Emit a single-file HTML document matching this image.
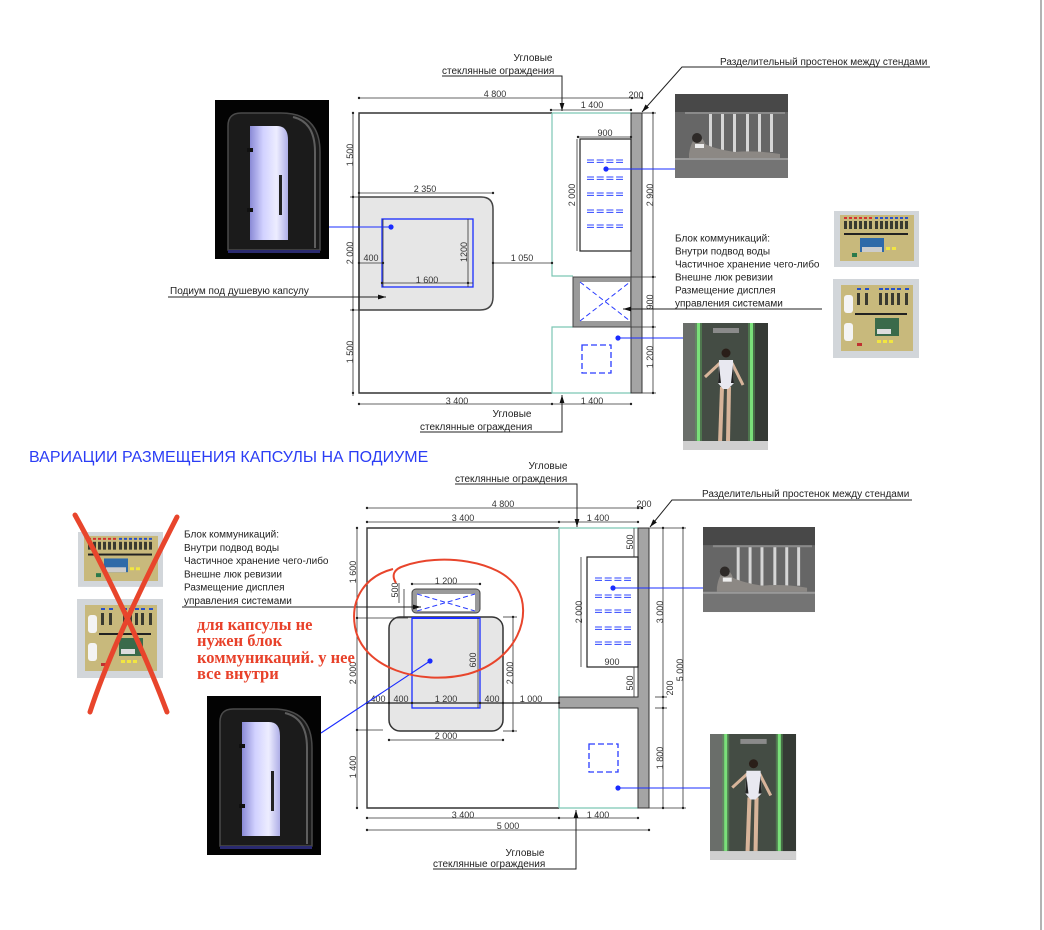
<!DOCTYPE html>
<html><head><meta charset="utf-8">
<style>
html,body{margin:0;padding:0;background:#fff;}
svg{display:block;}
text{font-family:"Liberation Sans",Arial,sans-serif;fill:#222;}
.d{font-size:9px;fill:#333;}
.l{font-size:10px;fill:#222;}
.rt{font-family:"Liberation Serif","Times New Roman",serif;font-weight:bold;font-size:16.5px;fill:#e8412a;}
</style></head><body>
<svg width="1044" height="930" viewBox="0 0 1044 930" xmlns="http://www.w3.org/2000/svg">
<defs>
<marker id="ar" viewBox="0 0 10 6" refX="10" refY="3" markerWidth="8" markerHeight="5" orient="auto" markerUnits="userSpaceOnUse"><path d="M0,0L10,3L0,6z" fill="#111"/></marker>
<linearGradient id="lav" x1="0" y1="0" x2="1" y2="0">
<stop offset="0" stop-color="#8a8ad6"/><stop offset="0.35" stop-color="#d2d2ff"/><stop offset="0.7" stop-color="#ededff"/><stop offset="1" stop-color="#aeaee6"/>
</linearGradient>
<g id="cap">
<rect width="114" height="159" fill="#030303"/>
<path d="M13,26 Q13,13 26,13 H66 Q105,13 105,52 V150 H13 Z" fill="#1b1b1b" stroke="#4a4a4a" stroke-width="1.5"/>
<path d="M78,17 Q100,22 100,52 V148" fill="none" stroke="#5e5e5e" stroke-width="2"/>
<path d="M35,26 H62 Q73,26 73,40 V140 H35 Z" fill="url(#lav)"/>
<rect x="32" y="48" width="6" height="4" fill="#111"/>
<rect x="32" y="108" width="6" height="4" fill="#111"/>
<rect x="64" y="75" width="3" height="40" fill="#222"/>
<rect x="13" y="150" width="92" height="3" fill="#2a2a70"/>
</g>
<g id="mas">
<rect width="113" height="84" fill="#5a5a5a"/>
<rect width="113" height="18" fill="#484848"/>
<rect x="0" y="18" width="113" height="46" fill="#666"/>
<rect x="10" y="18" width="100" height="2" fill="#8a8a8a"/>
<g fill="#d6d6d6"><rect x="34" y="20" width="3" height="38"/><rect x="46" y="20" width="3" height="38"/><rect x="58" y="20" width="3" height="38"/><rect x="71" y="20" width="3" height="38"/><rect x="83" y="20" width="3" height="38"/><rect x="95" y="20" width="3" height="38"/></g>
<path d="M14,60 Q16,46 22,44 Q28,42 30,50 Q40,55 60,58 Q80,56 105,60 V64 H14 Z" fill="#8c8884"/>
<circle cx="22" cy="44" r="5" fill="#2e2a28"/>
<rect x="20" y="50" width="9" height="4" fill="#eee"/>
<rect x="0" y="64" width="113" height="20" fill="#747474"/>
<rect x="0" y="64" width="113" height="2" fill="#999"/>
</g>
<g id="std">
<rect width="85" height="127" fill="#3a403b"/>
<rect width="14" height="127" fill="#6a6e6a"/>
<rect x="16" y="0" width="52" height="127" fill="#444c44"/>
<rect x="68" y="0" width="17" height="127" fill="#353a35"/>
<rect x="12" y="0" width="7" height="127" fill="#5aa05a" opacity="0.5"/>
<rect x="65" y="0" width="7" height="127" fill="#5aa05a" opacity="0.5"/>
<rect x="14" y="0" width="3" height="127" fill="#7ae07a"/>
<rect x="67" y="0" width="3" height="127" fill="#7ae07a"/>
<rect x="30" y="5" width="26" height="5" fill="#8a8a8a"/>
<path d="M37,40 L22,54" stroke="#d7b49a" stroke-width="3"/>
<path d="M49,40 L60,62" stroke="#d7b49a" stroke-width="3"/>
<path d="M39,64 L37,121" stroke="#d7b49a" stroke-width="4"/>
<path d="M46,64 L45,119" stroke="#d7b49a" stroke-width="4"/>
<path d="M36,37 H50 L51,60 L45,66 H40 L35,60 Z" fill="#e8e8f0"/>
<path d="M36,42 L38,60 L35,60 Z" fill="#222"/>
<path d="M50,42 L48,60 L51,60 Z" fill="#222"/>
<circle cx="43" cy="30" r="4.5" fill="#2a1e18"/>
<rect x="0" y="118" width="85" height="9" fill="#cfcfcf"/>
</g>
<g id="cb1">
<rect width="85" height="56" fill="#d2d6da"/>
<rect x="6" y="4" width="74" height="46" fill="#c8b97c"/>
<g fill="#d43030"><rect x="10" y="6" width="3" height="2"/><rect x="15" y="6" width="3" height="2"/><rect x="20" y="6" width="3" height="2"/><rect x="25" y="6" width="3" height="2"/><rect x="30" y="6" width="3" height="2"/><rect x="35" y="6" width="3" height="2"/></g>
<g fill="#2850c8"><rect x="41" y="6" width="3" height="2"/><rect x="46" y="6" width="3" height="2"/><rect x="51" y="6" width="3" height="2"/><rect x="56" y="6" width="3" height="2"/><rect x="61" y="6" width="3" height="2"/><rect x="66" y="6" width="3" height="2"/><rect x="71" y="6" width="3" height="2"/></g>
<g fill="#3a3a30"><rect x="10" y="10" width="3" height="8"/><rect x="15" y="10" width="3" height="8"/><rect x="20" y="10" width="3" height="8"/><rect x="25" y="10" width="3" height="8"/><rect x="30" y="10" width="3" height="8"/><rect x="35" y="10" width="3" height="8"/><rect x="41" y="10" width="3" height="8"/><rect x="46" y="10" width="3" height="8"/><rect x="51" y="10" width="3" height="8"/><rect x="56" y="10" width="3" height="8"/><rect x="61" y="10" width="3" height="8"/><rect x="66" y="10" width="3" height="8"/><rect x="71" y="10" width="3" height="8"/></g>
<rect x="10" y="22" width="64" height="2" fill="#222"/>
<rect x="26" y="27" width="24" height="14" fill="#2f6aa8"/>
<rect x="28" y="36" width="20" height="5" fill="#ccc"/>
<rect x="52" y="36" width="4" height="3" fill="#f2e640"/><rect x="58" y="36" width="4" height="3" fill="#f2e640"/>
<rect x="18" y="42" width="5" height="4" fill="#2a7a4a"/>
</g>
<g id="cb2">
<rect width="86" height="79" fill="#d2d6da"/>
<rect x="8" y="6" width="72" height="66" fill="#c8b97c"/>
<g fill="#2850c8"><rect x="24" y="9" width="4" height="2"/><rect x="32" y="9" width="4" height="2"/><rect x="46" y="9" width="4" height="2"/><rect x="52" y="9" width="4" height="2"/><rect x="58" y="9" width="4" height="2"/><rect x="64" y="9" width="4" height="2"/><rect x="72" y="9" width="4" height="2"/></g>
<rect x="11" y="16" width="9" height="18" rx="3" fill="#f4f4f4"/>
<rect x="11" y="44" width="9" height="18" rx="3" fill="#f4f4f4"/>
<g fill="#3a3a30"><rect x="24" y="14" width="3" height="12"/><rect x="32" y="14" width="3" height="12"/><rect x="46" y="14" width="3" height="12"/><rect x="52" y="14" width="3" height="12"/><rect x="58" y="14" width="3" height="12"/><rect x="64" y="14" width="3" height="12"/><rect x="72" y="14" width="3" height="12"/></g>
<rect x="22" y="34" width="52" height="2" fill="#222"/>
<rect x="42" y="39" width="24" height="18" fill="#3a6a4a"/>
<rect x="44" y="50" width="14" height="5" fill="#ddd"/>
<rect x="44" y="61" width="4" height="3" fill="#f2e640"/><rect x="50" y="61" width="4" height="3" fill="#f2e640"/><rect x="56" y="61" width="4" height="3" fill="#f2e640"/>
<rect x="24" y="64" width="5" height="3" fill="#c03030"/>
</g>
</defs>

<!-- right edge line -->
<line x1="1041" y1="0" x2="1041" y2="930" stroke="#9a9a9a" stroke-width="1.5"/>

<!-- ================= TOP PLAN ================= -->
<use href="#cap" transform="translate(215,100)"/>
<use href="#mas" transform="translate(675,94)"/>
<use href="#std" transform="translate(683,323)"/>
<use href="#cb1" transform="translate(834,211)"/>
<use href="#cb2" transform="translate(833,279)"/>

<path d="M359,197 H481 Q493,197 493,209 V297 Q493,310 480,310 H359 Z" fill="#e6e6e6" stroke="#444" stroke-width="1.5"/>
<rect x="382" y="219" width="91" height="68" fill="none" stroke="#1a2cff" stroke-width="1.3"/>

<g stroke="#333" stroke-width="1.4" fill="none">
<polyline points="552,113 359,113 359,393 552,393"/>
</g>
<g stroke="#7cc6b4" stroke-width="1.2" fill="none">
<line x1="552" y1="113" x2="631" y2="113"/>
<polyline points="573,276 552,276 552,113"/>
<polyline points="573,327 552,327 552,393 631,393"/>
</g>
<rect x="631" y="113" width="11" height="280" fill="#a4a4a4" stroke="#333" stroke-width="1"/>
<rect x="580" y="139" width="51" height="112" fill="#fff" stroke="#222" stroke-width="1.2"/>
<rect x="573" y="277" width="58" height="50" fill="#9a9a9a" stroke="#444" stroke-width="1"/>
<rect x="580" y="282" width="50" height="39" fill="#fff"/>
<g stroke="#2a3cff" stroke-width="1" stroke-dasharray="5 3"><line x1="580" y1="282" x2="630" y2="321"/><line x1="580" y1="321" x2="630" y2="282"/></g>
<g stroke="#2f45ff" stroke-width="1" stroke-dasharray="7 2.7">
<line x1="587" y1="160" x2="623" y2="160"/><line x1="587" y1="162.4" x2="623" y2="162.4"/>
<line x1="587" y1="177" x2="623" y2="177"/><line x1="587" y1="179.4" x2="623" y2="179.4"/>
<line x1="587" y1="193" x2="623" y2="193"/><line x1="587" y1="195.4" x2="623" y2="195.4"/>
<line x1="587" y1="210" x2="623" y2="210"/><line x1="587" y1="212.4" x2="623" y2="212.4"/>
<line x1="587" y1="225" x2="623" y2="225"/><line x1="587" y1="227.4" x2="623" y2="227.4"/>
</g>
<rect x="582" y="345" width="29" height="28" fill="none" stroke="#2a3cff" stroke-width="1.3" stroke-dasharray="6 3"/>

<g stroke="#333" stroke-width="0.8" fill="none">
<line x1="359" y1="98" x2="642" y2="98"/>
<line x1="551" y1="110" x2="631" y2="110"/>
<line x1="578" y1="137" x2="631" y2="137"/>
<line x1="577" y1="139" x2="577" y2="251"/>
<line x1="359" y1="193" x2="493" y2="193"/>
<line x1="353" y1="113" x2="353" y2="396"/>
<line x1="350" y1="197" x2="359" y2="197"/>
<line x1="350" y1="310" x2="359" y2="310"/>
<line x1="653" y1="113" x2="653" y2="393"/>
<line x1="642" y1="113" x2="656" y2="113"/>
<line x1="631" y1="277" x2="656" y2="277"/>
<line x1="631" y1="327" x2="656" y2="327"/>
<line x1="642" y1="393" x2="656" y2="393"/>
<line x1="359" y1="263" x2="383" y2="263"/>
<line x1="493" y1="263" x2="552" y2="263"/>
<line x1="382" y1="283" x2="473" y2="283"/>
<line x1="468" y1="219" x2="468" y2="287"/>
<line x1="383" y1="219" x2="383" y2="287"/>
<line x1="359" y1="404" x2="631" y2="404"/>
</g>
<g fill="#222">
<circle cx="359" cy="98" r="1.2"/><circle cx="632" cy="98" r="1.2"/><circle cx="642" cy="98" r="1.2"/>
<circle cx="551" cy="110" r="1.2"/><circle cx="631" cy="110" r="1.2"/>
<circle cx="578" cy="137" r="1.2"/><circle cx="631" cy="137" r="1.2"/>
<circle cx="359" cy="193" r="1.2"/><circle cx="493" cy="193" r="1.2"/>
<circle cx="353" cy="113" r="1.2"/><circle cx="353" cy="197" r="1.2"/><circle cx="353" cy="310" r="1.2"/><circle cx="353" cy="393" r="1.2"/>
<circle cx="653" cy="113" r="1.2"/><circle cx="653" cy="277" r="1.2"/><circle cx="653" cy="327" r="1.2"/><circle cx="653" cy="393" r="1.2"/>
<circle cx="359" cy="263" r="1.2"/><circle cx="383" cy="263" r="1.2"/><circle cx="493" cy="263" r="1.2"/><circle cx="552" cy="263" r="1.2"/>
<circle cx="382" cy="283" r="1.2"/><circle cx="468" cy="283" r="1.2"/>
<circle cx="359" cy="404" r="1.2"/><circle cx="552" cy="404" r="1.2"/><circle cx="631" cy="404" r="1.2"/>
</g>
<g text-anchor="middle">
<text x="495" y="97" class="d">4 800</text>
<text x="636" y="98" class="d">200</text>
<text x="592" y="108" class="d">1 400</text>
<text x="605" y="136" class="d">900</text>
<text x="425" y="192" class="d">2 350</text>
<text x="371" y="261" class="d">400</text>
<text x="522" y="261" class="d">1 050</text>
<text x="427" y="283" class="d">1 600</text>
<text x="457" y="404" class="d">3 400</text>
<text x="592" y="404" class="d">1 400</text>
<text class="d" transform="translate(575,195) rotate(-90)">2 000</text>
<text class="d" transform="translate(353,155) rotate(-90)">1 500</text>
<text class="d" transform="translate(353,253) rotate(-90)">2 000</text>
<text class="d" transform="translate(353,352) rotate(-90)">1 500</text>
<text class="d" transform="translate(653,195) rotate(-90)">2 900</text>
<text class="d" transform="translate(653,302) rotate(-90)">900</text>
<text class="d" transform="translate(653,357) rotate(-90)">1 200</text>
<text class="d" transform="translate(467,252) rotate(-90)">1200</text>
</g>

<g stroke="#222" stroke-width="1" fill="none">
<polyline points="442,76 562,76 562,111" marker-end="url(#ar)"/>
<polyline points="420,432 562,432 562,395" marker-end="url(#ar)"/>
<polyline points="930,67 682,67 642,112" marker-end="url(#ar)"/>
<line x1="168" y1="297" x2="386" y2="297" marker-end="url(#ar)"/>
<polyline points="822,309 623,309" marker-end="url(#ar)"/>
</g>
<text x="533" y="61" class="l" text-anchor="middle">Угловые</text>
<text x="442" y="74" class="l">стеклянные ограждения</text>
<text x="512" y="417" class="l" text-anchor="middle">Угловые</text>
<text x="420" y="430" class="l">стеклянные ограждения</text>
<text x="720" y="65" class="l">Разделительный простенок между стендами</text>
<text x="170" y="294" class="l">Подиум под душевую капсулу</text>
<text x="675" y="241.5" class="l">Блок коммуникаций:</text>
<text x="675" y="254.5" class="l">Внутри подвод воды</text>
<text x="675" y="267.5" class="l">Частичное хранение чего-либо</text>
<text x="675" y="280.5" class="l">Внешне люк ревизии</text>
<text x="675" y="293.5" class="l">Размещение дисплея</text>
<text x="675" y="306.5" class="l">управления системами</text>
<g stroke="#1a2cff" stroke-width="1.1">
<line x1="606" y1="169" x2="675" y2="169"/>
<line x1="618" y1="338" x2="683" y2="338"/>
<line x1="391" y1="227" x2="329" y2="227"/>
</g>
<g fill="#1a2cff"><circle cx="606" cy="169" r="2.6"/><circle cx="618" cy="338" r="2.6"/><circle cx="391" cy="227" r="2.6"/></g>

<text x="29" y="462" style="font-size:16px;fill:#2b3df5;">ВАРИАЦИИ РАЗМЕЩЕНИЯ КАПСУЛЫ НА ПОДИУМЕ</text>

<!-- ================= BOTTOM PLAN ================= -->
<use href="#cap" transform="translate(207,696)"/>
<use href="#mas" transform="translate(703,527) scale(0.991,1.012)"/>
<use href="#std" transform="translate(710,734) scale(1.012,0.992)"/>
<use href="#cb1" transform="translate(78,532) scale(1,0.98)"/>
<use href="#cb2" transform="translate(77,599)"/>

<rect x="389" y="617" width="114" height="114" rx="11" fill="#e6e6e6" stroke="#333" stroke-width="1.5"/>
<rect x="412" y="589" width="68" height="24" rx="4" fill="#9a9a9a" stroke="#444" stroke-width="1"/>
<rect x="417" y="594" width="58" height="17" fill="#fff"/>
<g stroke="#2a3cff" stroke-width="1" stroke-dasharray="5 3"><line x1="417" y1="594" x2="475" y2="611"/><line x1="417" y1="611" x2="475" y2="594"/></g>
<rect x="412" y="618" width="68" height="90" fill="none" stroke="#1a2cff" stroke-width="1.3"/>
<line x1="412" y1="618" x2="480" y2="618" stroke="#1a2cff" stroke-width="2"/>

<polyline points="559,528 367,528 367,808 559,808" stroke="#333" stroke-width="1.4" fill="none"/>
<g stroke="#7cc6b4" stroke-width="1.2" fill="none">
<line x1="559" y1="528" x2="559" y2="808"/>
<line x1="559" y1="528" x2="638" y2="528"/>
<line x1="559" y1="808" x2="638" y2="808"/>
</g>
<path d="M559,697 H638 V528 H649 V808 H638 V708 H559 Z" fill="#a4a4a4" stroke="#333" stroke-width="1"/>
<rect x="587" y="557" width="51" height="110" fill="#fff" stroke="#222" stroke-width="1.2"/>
<g stroke="#2f45ff" stroke-width="1" stroke-dasharray="7 2.7">
<line x1="595" y1="578" x2="631" y2="578"/><line x1="595" y1="580.4" x2="631" y2="580.4"/>
<line x1="595" y1="595" x2="631" y2="595"/><line x1="595" y1="597.4" x2="631" y2="597.4"/>
<line x1="595" y1="610" x2="631" y2="610"/><line x1="595" y1="612.4" x2="631" y2="612.4"/>
<line x1="595" y1="627" x2="631" y2="627"/><line x1="595" y1="629.4" x2="631" y2="629.4"/>
<line x1="595" y1="642" x2="631" y2="642"/><line x1="595" y1="644.4" x2="631" y2="644.4"/>
</g>
<rect x="589" y="744" width="29" height="28" fill="none" stroke="#2a3cff" stroke-width="1.3" stroke-dasharray="6 3"/>

<g stroke="#333" stroke-width="0.8" fill="none">
<line x1="367" y1="508" x2="642" y2="508"/>
<line x1="367" y1="522" x2="638" y2="522"/>
<line x1="412" y1="584" x2="480" y2="584"/>
<line x1="404" y1="589" x2="404" y2="618"/>
<line x1="399" y1="583" x2="399" y2="603"/>
<line x1="356" y1="618" x2="408" y2="618"/>
<line x1="478" y1="618" x2="478" y2="708"/>
<line x1="513" y1="617" x2="513" y2="731"/>
<line x1="503" y1="617" x2="517" y2="617"/>
<line x1="503" y1="731" x2="517" y2="731"/>
<line x1="356" y1="730" x2="383" y2="730"/>
<line x1="389" y1="740" x2="503" y2="740"/>
<line x1="357" y1="528" x2="357" y2="808"/>
<line x1="581" y1="557" x2="581" y2="667"/>
<line x1="634" y1="528" x2="634" y2="557"/>
<line x1="634" y1="667" x2="634" y2="697"/>
<line x1="663" y1="528" x2="663" y2="808"/>
<line x1="683" y1="528" x2="683" y2="808"/>
<line x1="649" y1="528" x2="686" y2="528"/>
<line x1="649" y1="808" x2="686" y2="808"/>
<line x1="655" y1="697" x2="667" y2="697"/>
<line x1="655" y1="708" x2="667" y2="708"/>
<line x1="367" y1="818" x2="638" y2="818"/>
<line x1="367" y1="830" x2="649" y2="830"/>
</g>
<line x1="367" y1="703" x2="559" y2="703" stroke="#222" stroke-width="1.2"/>
<g fill="#222">
<circle cx="367" cy="508" r="1.2"/><circle cx="638" cy="508" r="1.2"/><circle cx="642" cy="508" r="1.2"/>
<circle cx="367" cy="522" r="1.2"/><circle cx="559" cy="522" r="1.2"/><circle cx="638" cy="522" r="1.2"/>
<circle cx="412" cy="584" r="1.2"/><circle cx="480" cy="584" r="1.2"/>
<circle cx="367" cy="703" r="1.2"/><circle cx="389" cy="703" r="1.2"/><circle cx="412" cy="703" r="1.2"/><circle cx="480" cy="703" r="1.2"/><circle cx="503" cy="703" r="1.2"/><circle cx="559" cy="703" r="1.2"/>
<circle cx="389" cy="740" r="1.2"/><circle cx="503" cy="740" r="1.2"/>
<circle cx="357" cy="528" r="1.2"/><circle cx="357" cy="618" r="1.2"/><circle cx="357" cy="730" r="1.2"/><circle cx="357" cy="808" r="1.2"/>
<circle cx="513" cy="617" r="1.2"/><circle cx="513" cy="731" r="1.2"/>
<circle cx="663" cy="528" r="1.2"/><circle cx="663" cy="697" r="1.2"/><circle cx="663" cy="708" r="1.2"/><circle cx="663" cy="808" r="1.2"/>
<circle cx="683" cy="528" r="1.2"/><circle cx="683" cy="808" r="1.2"/>
<circle cx="367" cy="818" r="1.2"/><circle cx="559" cy="818" r="1.2"/><circle cx="638" cy="818" r="1.2"/>
<circle cx="367" cy="830" r="1.2"/><circle cx="649" cy="830" r="1.2"/>
</g>
<g text-anchor="middle">
<text x="503" y="507" class="d">4 800</text>
<text x="644" y="507" class="d">200</text>
<text x="463" y="521" class="d">3 400</text>
<text x="598" y="521" class="d">1 400</text>
<text x="446" y="584" class="d">1 200</text>
<text x="612" y="665" class="d">900</text>
<text x="378" y="702" class="d">400</text>
<text x="401" y="702" class="d">400</text>
<text x="446" y="702" class="d">1 200</text>
<text x="492" y="702" class="d">400</text>
<text x="531" y="702" class="d">1 000</text>
<text x="446" y="739" class="d">2 000</text>
<text x="463" y="818" class="d">3 400</text>
<text x="598" y="818" class="d">1 400</text>
<text x="508" y="829" class="d">5 000</text>
<text class="d" transform="translate(398,590) rotate(-90)">500</text>
<text class="d" transform="translate(633,542) rotate(-90)">500</text>
<text class="d" transform="translate(633,683) rotate(-90)">500</text>
<text class="d" transform="translate(582,612) rotate(-90)">2 000</text>
<text class="d" transform="translate(663,612) rotate(-90)">3 000</text>
<text class="d" transform="translate(683,670) rotate(-90)">5 000</text>
<text class="d" transform="translate(673,688) rotate(-90)">200</text>
<text class="d" transform="translate(663,758) rotate(-90)">1 800</text>
<text class="d" transform="translate(476,660) rotate(-90)">600</text>
<text class="d" transform="translate(513,673) rotate(-90)">2 000</text>
<text class="d" transform="translate(356,572) rotate(-90)">1 600</text>
<text class="d" transform="translate(356,673) rotate(-90)">2 000</text>
<text class="d" transform="translate(356,767) rotate(-90)">1 400</text>
</g>

<g stroke="#222" stroke-width="1" fill="none">
<polyline points="455,484 577,484 577,527" marker-end="url(#ar)"/>
<polyline points="912,500 672,500 650,527" marker-end="url(#ar)"/>
<polyline points="182,607 421,607" marker-end="url(#ar)"/>
<polyline points="433,869 576,869 576,810" marker-end="url(#ar)"/>
</g>
<text x="548" y="469" class="l" text-anchor="middle">Угловые</text>
<text x="455" y="482" class="l">стеклянные ограждения</text>
<text x="702" y="497" class="l">Разделительный простенок между стендами</text>
<text x="525" y="856" class="l" text-anchor="middle">Угловые</text>
<text x="433" y="867" class="l">стеклянные ограждения</text>
<text x="184" y="537.5" class="l">Блок коммуникаций:</text>
<text x="184" y="550.8" class="l">Внутри подвод воды</text>
<text x="184" y="564.1" class="l">Частичное хранение чего-либо</text>
<text x="184" y="577.4" class="l">Внешне люк ревизии</text>
<text x="184" y="590.7" class="l">Размещение дисплея</text>
<text x="184" y="604" class="l">управления системами</text>

<g stroke="#1a2cff" stroke-width="1.1">
<line x1="613" y1="588" x2="703" y2="588"/>
<line x1="618" y1="788" x2="710" y2="788"/>
<line x1="430" y1="661" x2="321" y2="733"/>
</g>
<g fill="#1a2cff"><circle cx="613" cy="588" r="2.6"/><circle cx="618" cy="788" r="2.6"/><circle cx="430" cy="661" r="2.6"/></g>

<path d="M396,583 C391,575 394,569 404,566 C440,553 500,560 517,588 C533,614 518,660 468,674 C420,686 362,668 355,627 C350,598 366,576 393,569" fill="none" stroke="#e8452c" stroke-width="2"/>
<path d="M75,515 C100,560 140,640 167,712" fill="none" stroke="#e8452c" stroke-width="5" stroke-linecap="round"/>
<path d="M177,517 C150,570 110,650 90,712" fill="none" stroke="#e8452c" stroke-width="5" stroke-linecap="round"/>
<text x="197" y="630" class="rt">для капсулы не</text>
<text x="197" y="646" class="rt">нужен блок</text>
<text x="197" y="663" class="rt">коммуникаций. у нее</text>
<text x="197" y="679" class="rt">все внутри</text>
</svg>
</body></html>
